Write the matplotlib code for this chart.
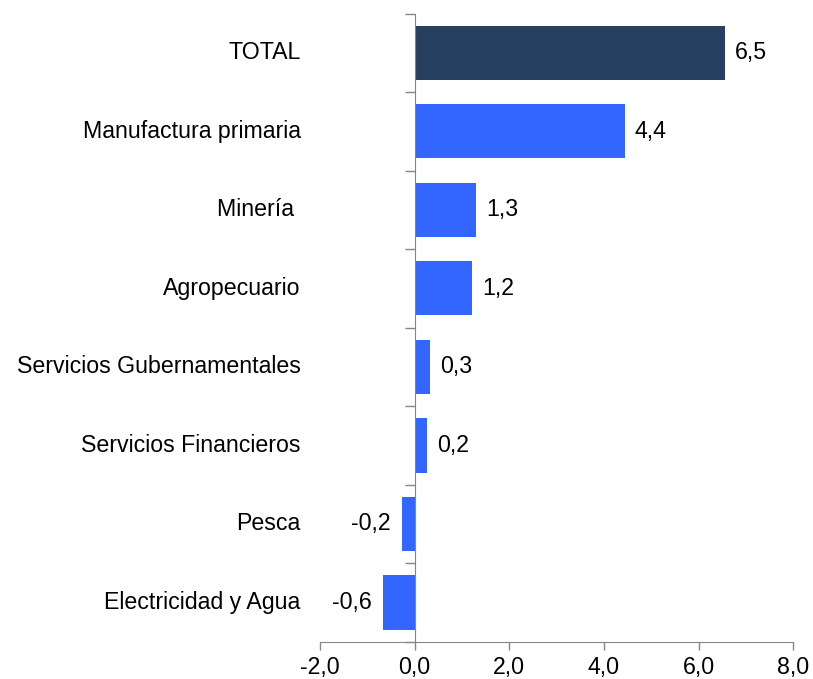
import matplotlib
matplotlib.use("Agg")
import matplotlib.pyplot as plt
import matplotlib.transforms as mtransforms
import numpy as np

plt.rcParams['font.family'] = ['Liberation Sans', 'DejaVu Sans']

categories = ["TOTAL", "Manufactura primaria", "Minería ", "Agropecuario",
              "Servicios Gubernamentales", "Servicios Financieros", "Pesca",
              "Electricidad y Agua"]
values = [6.56, 4.44, 1.30, 1.22, 0.33, 0.26, -0.26, -0.66]
value_labels = ["6,5", "4,4", "1,3", "1,2", "0,3", "0,2", "-0,2", "-0,6"]
xticks = [-2.0, 0.0, 2.0, 4.0, 6.0, 8.0]
xtick_labels = ["-2,0", "0,0", "2,0", "4,0", "6,0", "8,0"]

colors = ["#274061"] + ["#3366FF"] * (len(categories) - 1)
axis_color = "#868686"
fs = 16.7

fig = plt.figure(figsize=(8.13, 6.79), dpi=100)
ax = fig.add_axes([0.3936, 0.0549, 0.9758 - 0.3936, 0.9800 - 0.0549])

y = np.arange(len(categories))
ax.barh(y, values, height=0.69, color=colors, edgecolor="none", zorder=2)

ax.set_xlim(-2, 8)
ax.set_ylim(len(categories) - 0.5, -0.5)

for s in ["top", "right"]:
    ax.spines[s].set_visible(False)
ax.spines["left"].set_position(("data", 0))
ax.spines["left"].set_color(axis_color)
ax.spines["left"].set_zorder(3)
ax.spines["bottom"].set_color(axis_color)

ax.set_yticks(np.arange(-0.5, len(categories) + 0.5, 1.0))
ax.set_yticklabels([])
ax.tick_params(axis="y", length=7, width=1, color=axis_color, direction="out")

ax.set_xticks(xticks)
ax.set_xticklabels(xtick_labels, fontsize=fs)
ax.tick_params(axis="x", length=6, width=1, color=axis_color, direction="out", pad=4.5)

trans = mtransforms.blended_transform_factory(ax.transAxes, ax.transData)
for yi, cat in zip(y, categories):
    ax.text(-0.041, yi, cat, transform=trans, ha="right", va="center", fontsize=fs)

for yi, v, lab in zip(y, values, value_labels):
    if v >= 0:
        t = mtransforms.offset_copy(ax.transData, fig=fig, x=10, y=0, units="dots")
        ax.text(v, yi, lab, transform=t, ha="left", va="center", fontsize=fs)
    else:
        t = mtransforms.offset_copy(ax.transData, fig=fig, x=-12, y=0, units="dots")
        ax.text(v, yi, lab, transform=t, ha="right", va="center", fontsize=fs)

fig.savefig("out.png", dpi=100)
